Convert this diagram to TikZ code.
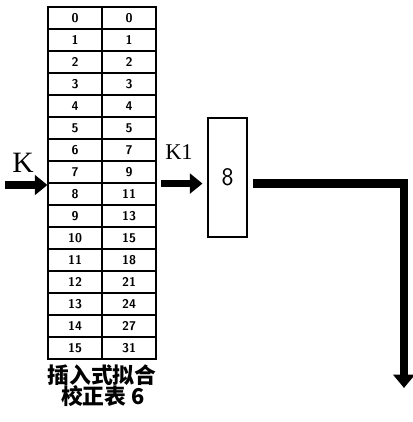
\documentclass[tikz,border=0pt]{standalone}
\usepackage{fontspec}
\setmainfont{Liberation Serif}
\newfontfamily\cjk{Noto Sans CJK SC}
\usetikzlibrary{arrows.meta}

\begin{document}
\begin{tikzpicture}[x=0.025cm, y=-0.025cm,
  cell/.style={draw, thick, minimum width=1.35cm, minimum height=0.55cm,
    inner sep=0pt, font=\sffamily\bfseries\small},
  fat/.style={line width=5pt, -{Triangle[length=9pt, width=14pt]}},
  fatter/.style={line width=5.8pt, -{Triangle[length=9.5pt, width=15pt]}}]
\useasboundingbox (0,0) rectangle (413,422);

% calibration table, 16 rows
\foreach \i/\v in {0/0,1/1,2/2,3/3,4/4,5/5,6/7,7/9,8/11,9/13,10/15,11/18,12/21,13/24,14/27,15/31} {
  \node[cell] (l\i) at (75,18+22*\i) {\i};
  \node[cell] (r\i) at (129,18+22*\i) {\v};
}
\node[font=\cjk\bfseries\fontsize{15.5}{18}\selectfont] (cap1) at (102,375) {插入式拟合};
\node[font=\cjk\bfseries\fontsize{15.5}{18}\selectfont] (cap2) at (103,396) {校正表 6};

% input and output
\coordinate (kin) at (5,185);
\node[font=\fontsize{21}{24}\selectfont] (k) at (23,163) {K};
\draw[fat] (kin) -- (kin -| l7.south west);

\node[font=\fontsize{16}{18}\selectfont] (kone) at (179,152) {K1};
\node[draw, thick, minimum width=0.975cm, minimum height=2.975cm,
  font=\sffamily\fontsize{18}{20}\selectfont] (box) at (227.5,177.5) {8};
\draw[fat, shorten <=3pt, shorten >=3.5pt] (r7.south east) -- (r7.south east -| box.west);

\coordinate (out) at (404,388);
\draw[fatter, shorten <=4pt] (r7.south east -| box.east) -| (out);
\end{tikzpicture}
\end{document}
